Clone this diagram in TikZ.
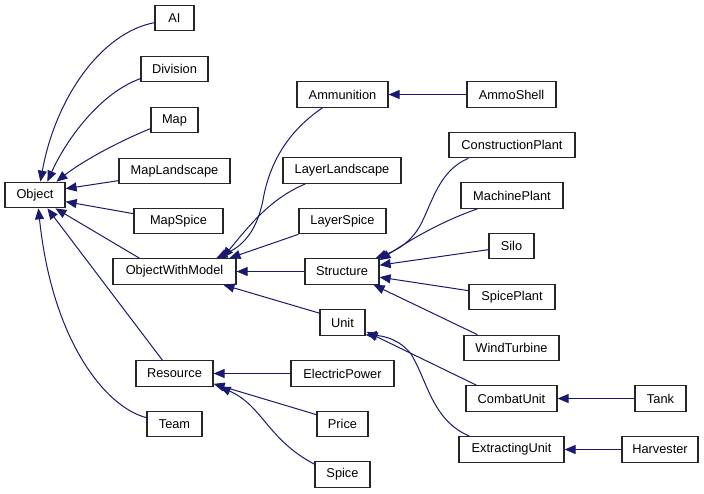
\documentclass[tikz,border=0pt]{standalone}
\usepackage{fontspec}
\setmainfont{Liberation Sans}
\usetikzlibrary{arrows.meta,calc}
\definecolor{edgeblue}{HTML}{191970}
\tikzset{
  cls/.style={draw=black!85, line width=1.2pt, fill=white, inner sep=0pt, minimum height=25.5pt, font=\fontsize{12.8}{15}\selectfont},
  inh/.style={draw=edgeblue, line width=1pt, -{Triangle[length=11pt,width=9pt]}, edgeblue}
}
\begin{document}
\begin{tikzpicture}[x=1pt,y=-1pt]
\useasboundingbox (0,0) rectangle (704,493);
% column 1
\node[cls, minimum width=60pt] (Object) at (35,195) {Object};
% column 2
\node[cls, minimum width=39pt] (AI) at (174.5,18) {AI};
\node[cls, minimum width=67pt] (Division) at (174.5,69) {Division};
\node[cls, minimum width=47pt] (Map) at (174.5,120) {Map};
\node[cls, minimum width=111pt] (MapLandscape) at (174.5,171) {MapLandscape};
\node[cls, minimum width=89pt] (MapSpice) at (178.5,221) {MapSpice};
\node[cls, minimum width=123pt] (OWM) at (174.5,271.5) {ObjectWithModel};
\node[cls, minimum width=77pt] (Resource) at (174.5,373.5) {Resource};
\node[cls, minimum width=55pt] (Team) at (174.5,424) {Team};
% column 3
\node[cls, minimum width=91pt] (Ammunition) at (342.5,94.5) {Ammunition};
\node[cls, minimum width=118pt] (LayerLandscape) at (342,170.5) {LayerLandscape};
\node[cls, minimum width=87pt] (LayerSpice) at (342.5,221) {LayerSpice};
\node[cls, minimum width=74pt] (Structure) at (342,271.5) {Structure};
\node[cls, minimum width=45pt] (Unit) at (342.5,322.5) {Unit};
\node[cls, minimum width=103pt] (ElectricPower) at (342.5,373.5) {ElectricPower};
\node[cls, minimum width=51pt] (Price) at (342.5,424) {Price};
\node[cls, minimum width=55pt] (Spice) at (342.5,474.5) {Spice};
% column 4
\node[cls, minimum width=89pt] (AmmoShell) at (511.5,94.5) {AmmoShell};
\node[cls, minimum width=126pt] (ConstructionPlant) at (512,145) {ConstructionPlant};
\node[cls, minimum width=102pt] (MachinePlant) at (512,195.5) {MachinePlant};
\node[cls, minimum width=45pt] (Silo) at (511.5,246) {Silo};
\node[cls, minimum width=86pt] (SpicePlant) at (512,297) {SpicePlant};
\node[cls, minimum width=95pt] (WindTurbine) at (511.5,348) {WindTurbine};
\node[cls, minimum width=91pt] (CombatUnit) at (511.5,398.5) {CombatUnit};
\node[cls, minimum width=105pt] (ExtractingUnit) at (511.5,449.5) {ExtractingUnit};
% column 5
\node[cls, minimum width=51pt] (Tank) at (660.5,398.5) {Tank};
\node[cls, minimum width=76pt] (Harvester) at (660,449.5) {Harvester};

% edges to Object
\draw[inh] ($(AI.north west)+(0,18)$) .. controls (100,33) and (55,100) .. ($(Object.north west)+(36,0)$);
\draw[inh] ($(Division.north west)+(0,23)$) .. controls (100,93) and (66,140) .. ($(Object.north west)+(43,0)$);
\draw[inh] ($(Map.north west)+(0,22)$) .. controls (115,143) and (80,163) .. ($(Object.north west)+(52,0)$);
\draw[inh] ($(MapLandscape.north west)+(0,23)$) -- ($(Object.north east)+(0,7)$);
\draw[inh] ($(MapSpice.north west)+(0,6)$) -- ($(Object.north east)+(0,20)$);
\draw[inh] ($(OWM.north west)+(27,0)$) -- ($(Object.south west)+(51,0)$);
\draw[inh] ($(Resource.north west)+(27,0)$) -- ($(Object.south west)+(43,0)$);
\draw[inh] ($(Team.north west)+(0,7)$) .. controls (105,407) and (52,340) .. ($(Object.south west)+(34,0)$);

% edges to ObjectWithModel
\draw[inh] ($(Ammunition.south west)+(26,0)$) .. controls (290,130) and (270,160) .. (263,200) .. controls (256,235) and (240,247) .. ($(OWM.north west)+(104,0)$);
\draw[inh] ($(LayerLandscape.south west)+(23,0)$) .. controls (272,198) and (252,222) .. ($(OWM.north west)+(110,0)$);
\draw[inh] (LayerSpice.south west) -- ($(OWM.north west)+(117,0)$);
\draw[inh] (Structure.west) -- (OWM.east);
\draw[inh] ($(Unit.north west)+(0,4)$) -- ($(OWM.south west)+(111,0)$);

% Ammunition
\draw[inh] (AmmoShell.west) -- (Ammunition.east);

% edges to Structure
\draw[inh] ($(ConstructionPlant.south west)+(20,0)$) .. controls (440,170) and (433,200) .. (421,224) .. controls (410,245) and (392,252) .. ($(Structure.north east)+(-4,0)$);
\draw[inh] ($(MachinePlant.south west)+(17,0)$) .. controls (440,222) and (410,240) .. ($(Structure.north east)+(0,2)$);
\draw[inh] ($(Silo.north west)+(0,17)$) -- ($(Structure.north east)+(0,7)$);
\draw[inh] ($(SpicePlant.north west)+(0,7)$) -- ($(Structure.north east)+(0,19)$);
\draw[inh] ($(WindTurbine.north west)+(14,0)$) -- ($(Structure.south east)+(-6,0)$);

% edges to Unit
\draw[inh] ($(CombatUnit.north west)+(11,0)$) -- ($(Unit.south east)+(1,-4)$);
\draw[inh] ($(ExtractingUnit.north west)+(11,0)$) .. controls (432,420) and (428,382) .. (411,354) .. controls (400,340) and (385,336) .. ($(Unit.south east)+(0,-1)$);

\draw[inh] (Tank.west) -- (CombatUnit.east);
\draw[inh] (Harvester.west) -- (ExtractingUnit.east);

% edges to Resource
\draw[inh] (ElectricPower.west) -- (Resource.east);
\draw[inh] ($(Price.north west)+(0,4)$) -- ($(Resource.south east)+(0,-3)$);
\draw[inh] ($(Spice.north west)+(0,3)$) .. controls (268,440) and (262,405) .. ($(Resource.south east)+(6,0)$);
\end{tikzpicture}
\end{document}
